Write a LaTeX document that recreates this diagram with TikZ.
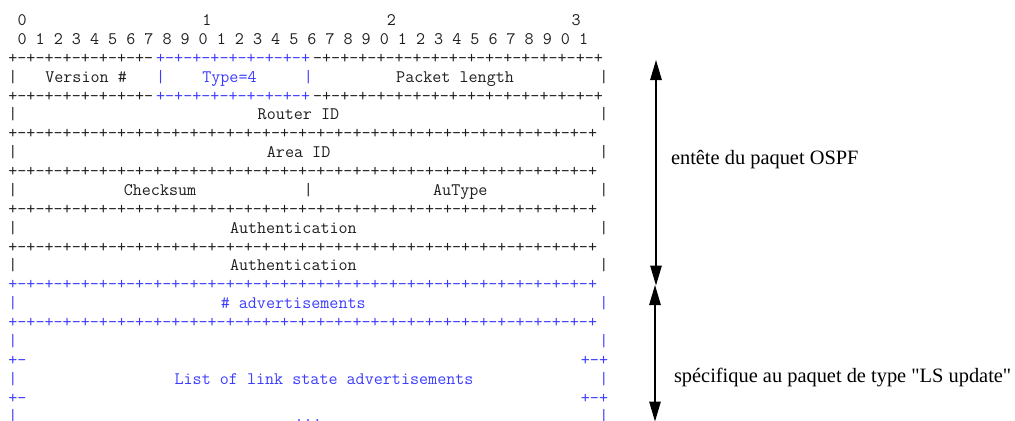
\documentclass[tikz,border=0pt]{standalone}
\usepackage{fontspec}
\setmainfont{Liberation Serif}
\newfontfamily\lblfont{Liberation Serif}[Ligatures=TeXOff]
\usetikzlibrary{arrows.meta}
\definecolor{pblue}{RGB}{60,60,255}
\definecolor{ink}{RGB}{30,30,30}
\newcommand\colx[1]{13+(#1-0.5)*9.234}
\newcommand\rowy[1]{25.6+(#1-1)*18.87}
\def\fourp{-+-+-+-+}
\newcommand\pluses{+\fourp\fourp\fourp\fourp\fourp\fourp\fourp\fourp}
% \asc[colour]{name}{column}{row}{text}
\newcommand\asc[5][ink]{\node[asc,text=#1] (#2) at ({\colx{#3}},{\rowy{#4}}) {#5};}
\tikzset{
  asc/.style={font=\ttfamily\fontsize{13.19pt}{15pt}\selectfont, inner sep=0pt, outer sep=0pt, anchor=base west},
  lbl/.style={font=\lblfont\fontsize{15.3pt}{18pt}\selectfont, inner sep=0pt, outer sep=0pt, anchor=base west},
  dblarrow/.style={line width=1pt, {Triangle[length=15pt,width=8.6pt]}-{Triangle[length=15pt,width=8.6pt]}},
}
\begin{document}
\begin{tikzpicture}[x=0.75pt,y=-0.75pt]
\useasboundingbox (0,0) rectangle (1015,421);
% bit numbering
\asc{d0}{1}{1}{0}
\asc{d1}{21}{1}{1}
\asc{d2}{41}{1}{2}
\asc{d3}{61}{1}{3}
\asc{bits}{1}{2}{0 1 2 3 4 5 6 7 8 9 0 1 2 3 4 5 6 7 8 9 0 1 2 3 4 5 6 7 8 9 0 1}
% row 3
\asc{l3a}{0}{3}{+-+-+-+-+-+-+-+-}
\asc[pblue]{l3b}{16}{3}{+-+-+-+-+-+-+-+-+}
\asc{l3c}{33}{3}{\fourp\fourp\fourp\fourp}
% row 4
\asc{v4a}{0}{4}{|}
\asc{version}{4}{4}{Version \#}
\asc[pblue]{v4b}{16}{4}{|}
\asc[pblue]{type}{21}{4}{Type=4}
\asc[pblue]{v4c}{32}{4}{|}
\asc{plen}{42}{4}{Packet length}
\asc{v4d}{64}{4}{|}
% row 5
\asc{l5a}{0}{5}{+-+-+-+-+-+-+-+-}
\asc[pblue]{l5b}{16}{5}{+-+-+-+-+-+-+-+-+}
\asc{l5c}{33}{5}{\fourp\fourp\fourp\fourp}
% row 6
\asc{v6a}{0}{6}{|}
\asc{rid}{27}{6}{Router ID}
\asc{v6b}{64}{6}{|}
\asc{l7}{0}{7}{\pluses}
% row 8
\asc{v8a}{0}{8}{|}
\asc{aid}{28}{8}{Area ID}
\asc{v8b}{64}{8}{|}
\asc{l9}{0}{9}{\pluses}
% row 10
\asc{v10a}{0}{10}{|}
\asc{cks}{12.5}{10}{Checksum}
\asc{v10b}{32}{10}{|}
\asc{aut}{46}{10}{AuType}
\asc{v10c}{64}{10}{|}
\asc{l11}{0}{11}{\pluses}
% row 12
\asc{v12a}{0}{12}{|}
\asc{auth1}{24}{12}{Authentication}
\asc{v12b}{64}{12}{|}
\asc{l13}{0}{13}{\pluses}
% row 14
\asc{v14a}{0}{14}{|}
\asc{auth2}{24}{14}{Authentication}
\asc{v14b}{64}{14}{|}
% LS update part
\asc[pblue]{l15}{0}{15}{\pluses}
\asc[pblue]{v16a}{0}{16}{|}
\asc[pblue]{nadv}{23}{16}{\# advertisements}
\asc[pblue]{v16b}{64}{16}{|}
\asc[pblue]{l17}{0}{17}{\pluses}
\asc[pblue]{v18a}{0}{18}{|}
\asc[pblue]{v18b}{64}{18}{|}
\asc[pblue]{p19a}{0}{19}{+-}
\asc[pblue]{p19b}{62}{19}{+-+}
\asc[pblue]{v20a}{0}{20}{|}
\asc[pblue]{lsa}{18}{20}{List of link state advertisements}
\asc[pblue]{v20b}{64}{20}{|}
\asc[pblue]{p21a}{0}{21}{+-}
\asc[pblue]{p21b}{62}{21}{+-+}
\asc[pblue]{v22a}{0}{22}{|}
\asc[pblue]{dots}{31}{22}{...}
\asc[pblue]{v22b}{64}{22}{|}
% arrows and labels
\coordinate (a1t) at (656,60);
\coordinate (a1b) at (656,285.5);
\coordinate (a2t) at (655,285);
\coordinate (a2b) at (655,421.5);
\draw[dblarrow] (a1t) -- (a1b);
\draw[dblarrow] (a2t) -- (a2b);
\node[lbl] (hdr) at (671,164) {entête du paquet OSPF};
\node[lbl] (spec) at (674,382.5) {spécifique au paquet de type "LS update"};
\end{tikzpicture}
\end{document}
